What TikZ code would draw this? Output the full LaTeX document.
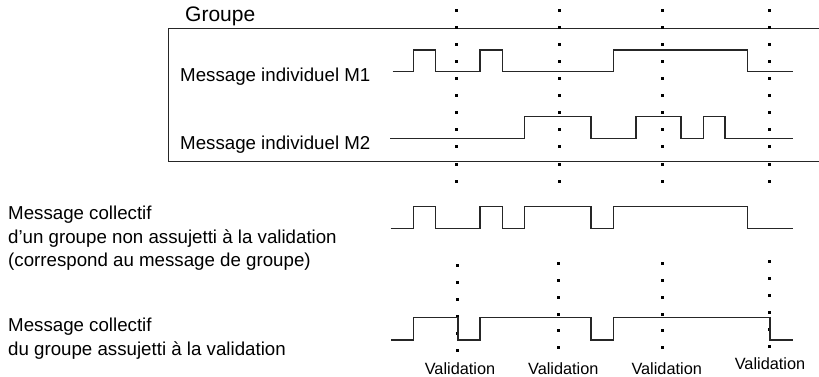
\documentclass[tikz,border=0pt]{standalone}
\usepackage{fontspec}
\setmainfont{Liberation Sans}
\usetikzlibrary{positioning}

\tikzset{
  signal/.style={black!85, line width=1.1pt},
  frame/.style={black!85, line width=1pt},
  lbl/.style={inner sep=0pt, anchor=base west, font=\fontsize{18.7}{23.3}\selectfont},
  vallbl/.style={inner sep=0pt, font=\fontsize{16.3}{19}\selectfont},
}

\begin{document}
\begin{tikzpicture}[x=1pt,y=-1pt]
  \useasboundingbox (0,0) rectangle (819,377);

  % Group frame, open on the right
  \draw[frame] (819,28.3) -- (168.3,28.3) -- (168.3,161.7) -- (819,161.7);
  \node[lbl, font=\fontsize{21}{24}\selectfont] (groupe) at (185,22) {Groupe};

  % Labels
  \node[lbl] (m1) at (180,81.7) {Message individuel M1};
  \node[lbl] (m2) at (180,149.4) {Message individuel M2};
  \node[lbl, anchor=north west, align=left] (coll) at (8,206)
    {Message collectif\\d’un groupe non assujetti à la validation\\(correspond au message de groupe)};
  \node[lbl, anchor=north west, align=left] (valid) at (8,318)
    {Message collectif\\du groupe assujetti à la validation};

  % Dotted markers
  \foreach \x in {456,559,662.3,769.3} {
    \foreach \k in {0,...,10}
      \fill ({\x-1.5},{11+17*\k-1.5}) rectangle +(3,3);
  }
  \foreach \x/\y in {457.7/265.7, 558.3/263.3, 662.3/263.3, 769.3/261.7} {
    \foreach \k in {0,...,5}
      \fill ({\x-1.5},{\y+16.9*\k-1.5}) rectangle +(3,3);
  }
  \foreach \x/\y [count=\i] in {460/368.3, 563.3/368.3, 666.7/368.3, 770/363.3}
    \node[vallbl] (val\i) at (\x,\y) {Validation};

  % Signals
  \draw[signal] (392.7,71.7) -| (413.3,50) -| (435.7,71.7) -| (480,50) -| (502.3,71.7)
    -| (613.3,50) -| (747.7,71.7) -- (792.7,71.7);
  \draw[signal] (390,138.3) -| (524.3,116.7) -| (591,138.3) -| (636,116.7) -| (681,138.3)
    -| (703.3,116.7) -| (725,138.3) -- (792.7,138.3);
  \draw[signal] (390.7,228.3) -| (413.3,206.7) -| (435.7,228.3) -| (480,206.7) -| (502.3,228.3)
    -| (524.3,206.7) -| (591,228.3) -| (613.3,206.7) -| (747.7,228.3) -- (792.7,228.3);
  \draw[signal] (391,340) -| (413.3,317.7) -| (458,340) -| (480,317.7) -| (591,340)
    -| (613.3,317.7) -| (770,340) -- (792.7,340);
\end{tikzpicture}
\end{document}
